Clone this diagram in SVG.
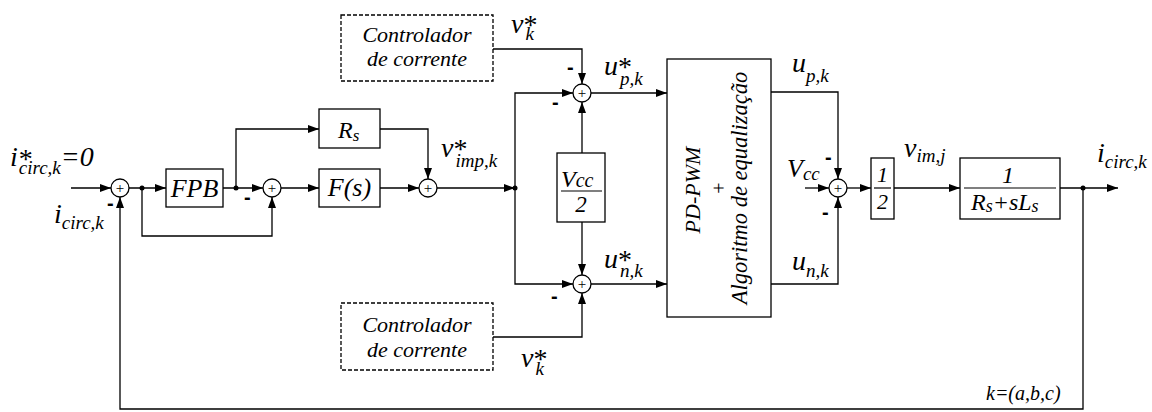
<svg xmlns="http://www.w3.org/2000/svg" width="1152" height="412" viewBox="0 0 1152 412">
<style>
.t{font-family:"Liberation Serif",serif;font-style:italic;fill:#000}
.m{font-size:28px}
.sb{font-size:19px}
.st{font-style:normal;font-size:28px}
.neg{font-family:"Liberation Sans",sans-serif;font-weight:bold;font-size:20px;fill:#000}
.box{fill:#fff;stroke:#000;stroke-width:1.3}
.dash{fill:#fff;stroke:#000;stroke-width:1.3;stroke-dasharray:4 2}
.sum{fill:#fff;stroke:#000;stroke-width:1.3}
.plus{font-family:"Liberation Serif",serif;font-size:15px;fill:#000;text-anchor:middle}
.w{fill:none;stroke:#000;stroke-width:1.3}
.a{marker-end:url(#ah)}
.fl{stroke:#000;stroke-width:1.2}
</style>
<defs>
<marker id="ah" markerUnits="userSpaceOnUse" markerWidth="11" markerHeight="8" refX="11" refY="4" orient="auto">
<path d="M0,0 L11,4 L0,8 z" fill="#000"/>
</marker>
</defs>
<rect width="1152" height="412" fill="#fff"/>

<g id="connectors">
<path class="w a" d="M71,188 H111"/>
<path class="w a" d="M129,188 H166"/>
<path class="w a" d="M142,188 V236 H272 V197"/>
<path class="w a" d="M223,188 H263"/>
<path class="w a" d="M236,188 V129 H319"/>
<path class="w a" d="M281,188 H319"/>
<path class="w a" d="M380,129 H428 V179"/>
<path class="w a" d="M380,188 H419"/>
<path class="w a" d="M437,188 H515"/>
<path class="w a" d="M515,188 V93 H573"/>
<path class="w a" d="M515,188 V284 H573"/>
<path class="w a" d="M493,49 H582 V84"/>
<path class="w a" d="M582,153 V102"/>
<path class="w a" d="M582,222 V275"/>
<path class="w a" d="M493,337 H582 V293"/>
<path class="w a" d="M591,93 H667"/>
<path class="w a" d="M591,284 H667"/>
<path class="w a" d="M771,92 H838 V179"/>
<path class="w a" d="M771,284 H838 V197"/>
<path class="w a" d="M805,188 H829"/>
<path class="w a" d="M847,188 H871"/>
<path class="w a" d="M894,188 H960"/>
<path class="w a" d="M1060,188 H1118"/>
<path class="w a" d="M1083,188 V409 H120 V197"/>
<circle cx="142" cy="188" r="2.5"/>
<circle cx="236" cy="188" r="2.5"/>
<circle cx="515" cy="188" r="2.5"/>
<circle cx="1083" cy="188" r="2.5"/>
</g>

<g id="sum1"><circle class="sum" cx="120" cy="188" r="9"/><text class="plus" x="120" y="193">+</text></g>
<g id="sum2"><circle class="sum" cx="272" cy="188" r="9"/><text class="plus" x="272" y="193">+</text></g>
<g id="sum3"><circle class="sum" cx="428" cy="188" r="9"/><text class="plus" x="428" y="193">+</text></g>
<g id="sum-p"><circle class="sum" cx="582" cy="93" r="9"/><text class="plus" x="582" y="98">+</text></g>
<g id="sum-n"><circle class="sum" cx="582" cy="284" r="9"/><text class="plus" x="582" y="289">+</text></g>
<g id="sum-out"><circle class="sum" cx="838" cy="188" r="9"/><text class="plus" x="838" y="193">+</text></g>

<g id="fpb"><rect class="box" x="166" y="169" width="57" height="38"/><text class="t" x="194.5" y="197" font-size="26" text-anchor="middle">FPB</text></g>
<g id="rs"><rect class="box" x="319" y="109" width="61" height="39"/><text class="t" x="338" y="138" font-size="24">R<tspan font-size="17" dy="3">s</tspan></text></g>
<g id="fs"><rect class="box" x="319" y="169" width="61" height="38"/><text class="t" x="349.5" y="196" font-size="26" text-anchor="middle">F(s)</text></g>

<g id="ctrl-top"><rect class="dash" x="341" y="15" width="152" height="66"/>
<text class="t" x="417" y="42" font-size="22" text-anchor="middle">Controlador</text>
<text class="t" x="417" y="66" font-size="22" text-anchor="middle">de corrente</text></g>
<g id="ctrl-bot"><rect class="dash" x="341" y="303" width="152" height="67"/>
<text class="t" x="417" y="332" font-size="22" text-anchor="middle">Controlador</text>
<text class="t" x="417" y="357" font-size="22" text-anchor="middle">de corrente</text></g>

<g id="vcc2"><rect class="box" x="557" y="153" width="48" height="69"/>
<text class="t" x="561" y="187" font-size="24">V<tspan font-size="20">cc</tspan></text>
<line class="fl" x1="561" y1="191" x2="602" y2="191"/>
<text class="t" x="581" y="212" font-size="23" text-anchor="middle">2</text></g>

<g id="pwm"><rect class="box" x="667" y="59" width="104" height="258"/>
<text class="t" transform="translate(700,190) rotate(-90)" font-size="22" text-anchor="middle">PD-PWM</text>
<text transform="translate(726,188) rotate(-90)" font-family="Liberation Serif,serif" font-size="20" text-anchor="middle">+</text>
<text class="t" transform="translate(747,188) rotate(-90)" font-size="22.5" text-anchor="middle">Algoritmo de equalização</text></g>

<g id="half"><rect class="box" x="871" y="158" width="23" height="61"/>
<text class="t" x="882.5" y="182" font-size="22" text-anchor="middle">1</text>
<line class="fl" x1="874" y1="188" x2="891" y2="188"/>
<text class="t" x="882.5" y="209" font-size="22" text-anchor="middle">2</text></g>

<g id="plant"><rect class="box" x="960" y="158" width="100" height="61"/>
<text class="t" x="1008" y="183" font-size="24" text-anchor="middle">1</text>
<line class="fl" x1="964" y1="188" x2="1056" y2="188"/>
<text class="t" x="971" y="210" font-size="24">R<tspan font-size="18" dy="2">s</tspan><tspan dy="-2">+sL</tspan><tspan font-size="18" dy="2">s</tspan></text></g>

<g id="labels">
<text class="t m" x="10" y="166">i<tspan class="st" dx="1" dy="2">*</tspan><tspan class="sb" dx="-14" dy="6">circ,k</tspan><tspan dy="-8">=0</tspan></text>
<text class="t m" x="54" y="223">i<tspan class="sb" dy="6">circ,k</tspan></text>
<text class="t m" x="441" y="157">v<tspan class="st" dy="1">*</tspan><tspan class="sb" dx="-12" dy="9">imp,k</tspan></text>
<text class="t m" x="511" y="33">v<tspan class="st" dy="1">*</tspan><tspan class="sb" dx="-12" dy="6">k</tspan></text>
<text class="t m" x="604" y="75">u<tspan class="st" dy="1">*</tspan><tspan class="sb" dx="-12" dy="9">p,k</tspan></text>
<text class="t m" x="604" y="268">u<tspan class="st" dy="1">*</tspan><tspan class="sb" dx="-12" dy="8">n,k</tspan></text>
<text class="t m" x="521" y="367">v<tspan class="st" dy="1">*</tspan><tspan class="sb" dx="-12" dy="7">k</tspan></text>
<text class="t m" x="792" y="72">u<tspan class="sb" dy="10">p,k</tspan></text>
<text class="t m" x="792" y="270">u<tspan class="sb" dy="7">n,k</tspan></text>
<text class="t" x="787" y="177" font-size="26">V<tspan font-size="19" dy="3">cc</tspan></text>
<text class="t m" x="904" y="157">v<tspan class="sb" dy="5">im,j</tspan></text>
<text class="t m" x="1097" y="162">i<tspan class="sb" dy="6">circ,k</tspan></text>
<text class="t" x="986" y="400" font-size="20">k=(a,b,c)</text>
<text class="neg" x="107" y="210">-</text>
<text class="neg" x="244" y="204">-</text>
<text class="neg" x="567" y="74">-</text>
<text class="neg" x="552" y="109">-</text>
<text class="neg" x="551" y="303">-</text>
<text class="neg" x="825" y="164">-</text>
<text class="neg" x="822" y="219">-</text>
</g>
</svg>
